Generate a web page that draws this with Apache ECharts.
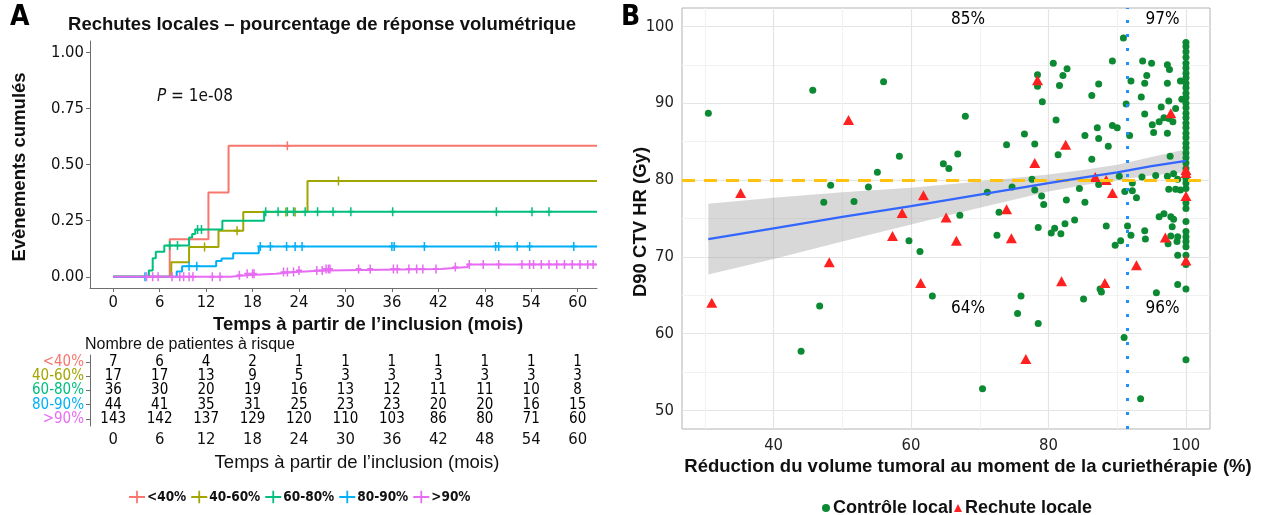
<!DOCTYPE html>
<html><head><meta charset="utf-8">
<script src="https://cdn.jsdelivr.net/npm/echarts@6/dist/echarts.min.js"></script>
<style>html,body{margin:0;padding:0;background:#fff}#chart{width:1266px;height:515px}</style>
</head><body><div id="chart"></div>
<script>
const COND = '"DejaVu Sans Condensed","DejaVu Sans",sans-serif';
const SANS = '"Liberation Sans",Arial,sans-serif';

// ---------- Panel A: cumulative local relapse by volumetric response ----------
const groupNames = ['<40%', '40-60%', '60-80%', '80-90%', '>90%'];
const groupColors = ['#F8766D', '#A3A500', '#00BF7D', '#00B0F6', '#E76BF3'];

const lt40Time = [0, 7.3, 12.3, 14.9, 62.5];
const lt40Cum  = [0, 0.167, 0.375, 0.583, 0.583];
const lt40Censor = [22.5];

const g4060Time = [0, 7.5, 9.8, 13.6, 16.8, 25.1, 62.5];
const g4060Cum  = [0, 0.065, 0.133, 0.205, 0.288, 0.427, 0.427];
const g4060Censor = [11.8, 16.0, 22.3, 23.5, 29.1];

const g6080Time = [0, 4.6, 5.1, 5.5, 6.6, 9.8, 10.2, 10.6, 14.1, 19.5, 62.5];
const g6080Cum  = [0, 0.028, 0.083, 0.111, 0.139, 0.175, 0.19, 0.21, 0.25, 0.29, 0.29];
const g6080Censor = [7.3, 8.3, 10.9, 11.4, 19.7, 21.3, 22.5, 23.3, 24.8, 26.4, 28.4, 30.7, 36.1, 49.5, 54.1, 56.3];

const g8090Time = [0, 8.2, 8.9, 13.3, 14.0, 15.5, 18.8, 62.5];
const g8090Cum  = [0, 0.023, 0.047, 0.070, 0.081, 0.105, 0.135, 0.135];
const g8090Censor = [4.1, 9.8, 10.8, 19.0, 20.3, 22.4, 23.5, 24.4, 36.0, 36.3, 40.2, 49.4, 49.8, 52.2, 53.8, 59.5];

const gt90Time = [0, 15.2, 17.2, 21.0, 23.5, 27.3, 42.3, 45.8, 62.5];
const gt90Cum  = [0, 0.007, 0.014, 0.021, 0.028, 0.035, 0.043, 0.055, 0.055];
const gt90Censor = [4.3, 5.1, 5.8, 7.6, 8.6, 9.1, 9.8, 10.3, 12.8, 13.8, 16.3, 17.3, 18.0, 18.2,
  22.0, 22.5, 23.3, 24.0, 26.3, 27.0, 27.5, 27.8, 28.0, 31.7, 33.2, 36.2, 36.7, 38.2, 39.2, 40.0,
  41.7, 44.2, 46.0, 47.8, 49.8, 52.8, 53.8, 54.3, 55.3, 56.3, 57.3, 58.3, 59.3, 60.3, 61.3, 62.0];

// numbers at risk
const riskTimes = [0, 6, 12, 18, 24, 30, 36, 42, 48, 54, 60];
const riskLt40  = [7, 6, 4, 2, 1, 1, 1, 1, 1, 1, 1];
const risk4060  = [17, 17, 13, 9, 5, 3, 3, 3, 3, 3, 3];
const risk6080  = [36, 30, 20, 19, 16, 13, 12, 11, 11, 10, 8];
const risk8090  = [44, 41, 35, 31, 25, 23, 23, 20, 20, 16, 15];
const riskGt90  = [143, 142, 137, 129, 120, 110, 103, 86, 80, 71, 60];

const yTicksA = [0, 0.25, 0.5, 0.75, 1];
const xTicksA = [0, 6, 12, 18, 24, 30, 36, 42, 48, 54, 60];

// ---------- Panel B: D90 vs tumour volume reduction ----------
const ctrlX = [30.5,45.7,56.0,58.3,64.7,65.5,48.3,47.3,51.7,53.8,55.1,59.7,61.3,63.1,46.7,44.0,66.8,67.1,67.9,71.1,72.8,72.5,70.4,
  73.9,74.7,76.5,76.0,75.5,77.6,78.0,78.0,78.4,78.4,78.5,78.5,79.0,79.3,79.1,
  80.7,80.4,80.9,81.1,81.4,81.6,81.8,82.1,82.4,82.6,82.7,83.8,84.5,85.1,85.3,85.3,
  86.3,86.3,87.1,87.3,87.3,87.3,87.5,87.7,88.4,88.7,89.3,89.3,89.7,
  90.0,90.3,90.5,90.9,91.0,91.1,91.3,91.5,91.8,92.0,92.0,92.2,92.2,92.8,93.4,93.5,93.6,93.7,94.0,94.0,94.0,94.1,94.3,
  95.0,95.1,95.3,95.6,95.7,96.1,96.1,96.4,96.8,96.8,97.3,97.3,97.3,97.3,97.4,97.5,97.5,97.5,97.6,97.7,97.8,97.8,98.0,98.1,98.2,98.2,98.5,98.5,98.7,98.8,98.8,98.8,98.8,99.2,99.4,99.2,
  100,100,100,100,100,100,100,100,100,100,100,100,100,100,100,100,100,100,100,100,
  100,100,100,100,100,100,100,100,100,100,100,100,100,100,100,100,100,100,100,100];
const ctrlY = [88.7,91.7,92.8,83.1,82.1,81.5,79.3,77.1,77.2,79.1,81.0,72.1,70.7,64.9,63.6,57.7,83.4,75.4,88.3,78.4,75.8,72.8,52.8,
  84.6,79.1,86.0,64.9,62.6,80.1,84.7,78.7,93.7,92.2,73.8,61.3,77.9,76.8,90.2,
  95.2,73.1,73.7,87.8,83.3,92.3,73.0,93.6,74.3,77.4,94.5,74.8,78.9,64.5,85.8,77.1,
  91.0,82.7,86.8,92.5,85.4,79.4,65.8,65.4,74.0,84.4,95.5,87.1,71.5,
  86.8,80.5,72.1,98.5,59.5,78.5,89.9,74.0,85.8,92.9,72.8,79.6,78.6,77.7,51.5,90.8,80.4,95.5,92.6,88.6,73.4,72.3,93.6,
  95.2,87.2,86.2,80.6,65.3,87.6,75.2,89.5,88.1,75.6,95.0,92.6,86.1,80.5,71.7,90.3,88.0,78.8,94.4,83.1,75.2,72.7,73.9,87.6,80.8,74.9,89.3,78.8,72.0,80.1,72.6,70.2,66.4,92.9,90.5,78.7,
  97.9,97.4,96.7,96.0,95.2,94.6,93.9,93.3,92.6,92.0,91.3,90.7,90.0,89.4,88.7,88.1,87.4,86.8,86.1,85.5,
  84.8,84.2,83.5,82.9,82.2,81.5,80.2,79.6,78.9,77.0,76.3,74.6,73.3,72.6,72.0,71.3,70.2,69.0,65.8,56.6];

const relX = [50.9,35.2,61.8,58.7,65.1,57.3,61.4,48.1,31.0,66.6,78.4,82.5,78.0,86.8,88.4,89.3,97.8,73.9,74.6,97.0,92.8,88.2,81.9,76.7,100,100,100,100];
const relY = [87.8,78.3,78.0,75.7,75.1,72.7,66.6,69.3,64.0,72.1,93.0,84.6,82.2,80.4,80.0,78.3,88.7,76.2,72.4,72.5,68.9,66.6,66.8,56.7,81.3,80.9,77.9,69.5];

// linear fit with its confidence band
const fitX    = [30.5, 40, 50, 60, 70, 80, 85, 90, 95, 100];
const fitY    = [72.3, 73.7, 75.2, 76.6, 78.1, 79.6, 80.3, 81.0, 81.8, 82.5];
const fitLow  = [67.7, 69.7, 72.0, 74.2, 76.4, 78.5, 79.3, 80.0, 80.6, 81.0];
const fitHigh = [76.9, 77.7, 78.4, 79.0, 79.8, 80.7, 81.3, 82.0, 83.0, 84.0];

const d90Threshold = 80;
const reductionCut = 91.4;

const annotX = [68.3, 96.6, 68.3, 96.6];
const annotY = [100.9, 100.9, 63.2, 63.2];
const annotText = ['85%', '97%', '64%', '96%'];

const xTicksB = [30, 40, 50, 60, 70, 80, 90, 100];
const xLabelsB = [40, 60, 80, 100];
const yTicksB = [50, 55, 60, 65, 70, 75, 80, 85, 90, 95, 100];
const yLabelsB = [50, 60, 70, 80, 90, 100];

// ---------- build ----------
const curves = [
  [lt40Time, lt40Cum, lt40Censor],
  [g4060Time, g4060Cum, g4060Censor],
  [g6080Time, g6080Cum, g6080Censor],
  [g8090Time, g8090Cum, g8090Censor],
  [gt90Time, gt90Cum, gt90Censor]
];
const riskCounts = [riskLt40, risk4060, risk6080, risk8090, riskGt90];

function stepAt(times, cums, t) {
  let v = cums[0];
  for (let i = 0; i < times.length; i++) { if (times[i] <= t) v = cums[i]; }
  return v;
}

const crossPath = 'path://M4,0H6V10H4Z M1,4H9V6H1Z';
const legendCross = 'path://M0,9H18V11H0Z M8,3H10V17H8Z';

const series = [];
curves.forEach((c, g) => {
  series.push({
    type: 'line', name: groupNames[g], xAxisIndex: 0, yAxisIndex: 0, step: 'end',
    data: c[0].map((t, i) => [t, c[1][i]]), symbol: 'none', showSymbol: false,
    lineStyle: { color: groupColors[g], width: 2 }, itemStyle: { color: groupColors[g] },
    z: 2 + g, silent: true
  });
  series.push({
    type: 'scatter', name: 'censor' + g, xAxisIndex: 0, yAxisIndex: 0,
    data: c[2].map(t => [t, stepAt(c[0], c[1], t)]), symbol: crossPath, symbolSize: [6, 9],
    itemStyle: { color: groupColors[g], opacity: 1 }, z: 2 + g, silent: true
  });
  series.push({
    type: 'scatter', name: 'risk' + g, xAxisIndex: 1, yAxisIndex: 1,
    data: riskTimes.map((t, i) => [t, groupNames[g], riskCounts[g][i]]),
    symbolSize: 0, silent: true, itemStyle: { opacity: 1 },
    label: { show: true, position: 'inside', formatter: p => String(p.value[2]),
      fontFamily: COND, fontSize: 15, color: '#000', opacity: 1 }
  });
});

series.push({
  type: 'custom', name: 'band', xAxisIndex: 2, yAxisIndex: 2, silent: true, z: 2,
  data: fitX.map((x, i) => [x, fitLow[i], fitHigh[i]]),
  encode: { x: 0, y: [1, 2] },
  renderItem: (params, api) => {
    if (params.dataIndex !== 0) return null;
    const pts = [];
    for (let i = 0; i < fitX.length; i++) pts.push(api.coord([fitX[i], fitHigh[i]]));
    for (let i = fitX.length - 1; i >= 0; i--) pts.push(api.coord([fitX[i], fitLow[i]]));
    return { type: 'polygon', shape: { points: pts }, style: { fill: 'rgba(153,153,153,0.38)' } };
  }
});
series.push({
  type: 'scatter', name: 'Contrôle local', xAxisIndex: 2, yAxisIndex: 2, z: 3, silent: true,
  data: ctrlX.map((x, i) => [x, ctrlY[i]]), symbol: 'circle', symbolSize: 7,
  itemStyle: { color: '#0c8a33', opacity: 1 }
});
series.push({
  type: 'scatter', name: 'Rechute locale', xAxisIndex: 2, yAxisIndex: 2, z: 4, silent: true,
  data: relX.map((x, i) => [x, relY[i]]), symbol: 'triangle', symbolSize: [11, 10],
  itemStyle: { color: '#ff2020', opacity: 1 }
});
series.push({
  type: 'line', name: 'fit', xAxisIndex: 2, yAxisIndex: 2, z: 6, silent: true,
  data: fitX.map((x, i) => [x, fitY[i]]), symbol: 'none', showSymbol: false,
  lineStyle: { color: '#3366FF', width: 2.2 },
  markLine: {
    silent: true, symbol: 'none', label: { show: false }, animation: false,
    data: [
      { yAxis: d90Threshold, lineStyle: { color: '#FFC20E', width: 3, type: [13, 9] } },
      { xAxis: reductionCut, lineStyle: { color: '#1E90FF', width: 3, type: [3, 11] } }
    ]
  }
});
series.push({
  type: 'scatter', name: 'annot', xAxisIndex: 2, yAxisIndex: 2, z: 7, silent: true,
  data: annotX.map((x, i) => [x, annotY[i]]), symbolSize: 0, itemStyle: { opacity: 1 },
  label: { show: true, position: 'inside', formatter: p => annotText[p.dataIndex],
    fontFamily: COND, fontSize: 17, color: '#000', opacity: 1 }
});

const axisGray = '#6e6e6e';
const option = {
  animation: false,
  backgroundColor: '#fff',
  grid: [
    { left: 90, top: 41, width: 507, height: 247 },
    { left: 90, top: 355, width: 507, height: 71 },
    { left: 682, top: 8, width: 528, height: 421, show: true, borderColor: '#b3b3b3', borderWidth: 1, backgroundColor: '#fff' }
  ],
  xAxis: [
    { gridIndex: 0, type: 'value', min: -3, max: 62.5,
      axisLine: { onZero: false, lineStyle: { color: axisGray, width: 1 } },
      axisTick: { customValues: xTicksA, length: 4, lineStyle: { color: axisGray } },
      axisLabel: { customValues: xTicksA, fontFamily: COND, fontSize: 16.5, color: '#111', margin: 6 },
      splitLine: { show: false } },
    { gridIndex: 1, type: 'value', min: -3, max: 62.5,
      axisLine: { onZero: false, lineStyle: { color: axisGray, width: 1 } },
      axisTick: { customValues: xTicksA, length: 4, lineStyle: { color: axisGray } },
      axisLabel: { customValues: xTicksA, fontFamily: COND, fontSize: 16.5, color: '#111', margin: 5 },
      splitLine: { show: false } },
    { gridIndex: 2, type: 'value', min: 26.67, max: 103.5,
      axisLine: { show: false },
      axisTick: { show: false, customValues: xTicksB },
      axisLabel: { customValues: xLabelsB, fontFamily: COND, fontSize: 16.5, color: '#222', margin: 8 },
      splitLine: { show: true, lineStyle: { color: ['#f2f2f2', '#e4e4e4'], width: 1.2 } } }
  ],
  yAxis: [
    { gridIndex: 0, type: 'value', min: -0.05, max: 1.05,
      axisLine: { show: true, onZero: false, lineStyle: { color: axisGray, width: 1 } },
      axisTick: { show: true, customValues: yTicksA, length: 4, lineStyle: { color: axisGray } },
      axisLabel: { customValues: yTicksA, formatter: v => v.toFixed(2), fontFamily: COND, fontSize: 16.5, color: '#111', margin: 6 },
      splitLine: { show: false } },
    { gridIndex: 1, type: 'category', data: ['>90%', '80-90%', '60-80%', '40-60%', '<40%'],
      axisLine: { show: true, onZero: false, lineStyle: { color: axisGray, width: 1 } },
      axisTick: { show: true, alignWithLabel: true, interval: 0, length: 4, lineStyle: { color: axisGray } },
      axisLabel: { interval: 0, fontFamily: COND, fontSize: 15, margin: 6,
        color: v => groupColors[groupNames.indexOf(v)] } },
    { gridIndex: 2, type: 'value', min: 47.57, max: 102.4,
      axisLine: { show: false },
      axisTick: { show: false, customValues: yTicksB },
      axisLabel: { customValues: yLabelsB, fontFamily: COND, fontSize: 16.5, color: '#222', margin: 8 },
      splitLine: { show: true, lineStyle: { color: ['#e4e4e4', '#f2f2f2'], width: 1.2 } } }
  ],
  legend: [
    { data: groupNames.map(n => ({ name: n, icon: legendCross })), left: 124, top: 485,
      itemWidth: 16, itemHeight: 14, itemGap: 5, selectedMode: false,
      textStyle: { fontFamily: COND, fontWeight: 'bold', fontSize: 13.5, color: '#111', padding: [0, 0, 0, -3] } },
    { data: [{ name: 'Contrôle local', icon: 'circle' }, { name: 'Rechute locale', icon: 'triangle' }],
      left: 817, top: 494, itemWidth: 8, itemHeight: 8, itemGap: 1, selectedMode: false,
      textStyle: { fontFamily: SANS, fontWeight: 'bold', fontSize: 18, color: '#111', padding: [0, 0, 0, -2] } }
  ],
  graphic: [
    { type: 'text', left: 10, top: 4, style: { text: 'A', font: 'bold 28px ' + COND, fill: '#000' } },
    { type: 'text', left: 621, top: 4, style: { text: 'B', font: 'bold 28px ' + COND, fill: '#000' } },
    { type: 'text', x: 322, y: 25, style: { text: 'Rechutes locales – pourcentage de réponse volumétrique',
      font: 'bold 18.5px ' + SANS, fill: '#111', align: 'center', verticalAlign: 'middle' } },
    { type: 'text', x: 157, y: 97, style: { text: '{i|P} = 1e-08', verticalAlign: 'middle',
      font: '17px ' + COND, fill: '#111',
      rich: { i: { fontStyle: 'italic', fontFamily: COND, fontSize: 17, fill: '#111' } } } },
    { type: 'text', x: 20, y: 167, rotation: Math.PI / 2, style: { text: 'Evènements cumulés',
      font: 'bold 18.5px ' + SANS, fill: '#111', align: 'center', verticalAlign: 'middle' } },
    { type: 'text', x: 368, y: 325, style: { text: 'Temps à partir de l\u2019inclusion (mois)',
      font: 'bold 18.5px ' + SANS, fill: '#111', align: 'center', verticalAlign: 'middle' } },
    { type: 'text', x: 85, y: 345, style: { text: 'Nombre de patientes à risque',
      font: '16px ' + SANS, fill: '#111', verticalAlign: 'middle' } },
    { type: 'text', x: 357, y: 463, style: { text: 'Temps à partir de l\u2019inclusion (mois)',
      font: '18.5px ' + SANS, fill: '#111', align: 'center', verticalAlign: 'middle' } },
    { type: 'text', x: 641, y: 222, rotation: Math.PI / 2, style: { text: 'D90 CTV HR (Gy)',
      font: 'bold 18.5px ' + SANS, fill: '#111', align: 'center', verticalAlign: 'middle' } },
    { type: 'text', x: 968, y: 467, style: { text: 'Réduction du volume tumoral au moment de la curiethérapie (%)',
      font: 'bold 18.5px ' + SANS, fill: '#111', align: 'center', verticalAlign: 'middle' } }
  ],
  series: series
};

const chart = echarts.init(document.getElementById('chart'), null, { renderer: 'canvas' });
chart.setOption(option);
</script></body></html>
